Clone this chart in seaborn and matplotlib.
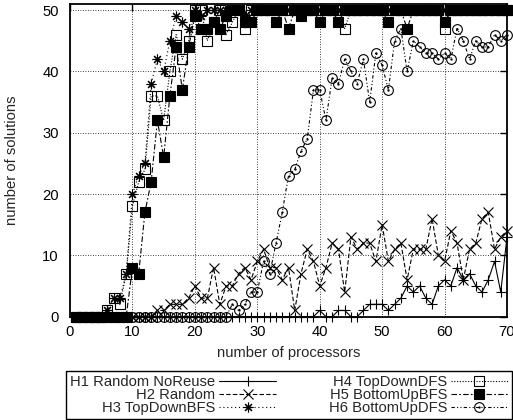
import matplotlib
matplotlib.use("Agg")
import matplotlib.pyplot as plt
from matplotlib.path import Path
import seaborn as sns

# number of processors (x) and number of solutions found per heuristic
procs = list(range(1, 71))

h1_random_noreuse = [0, 0, 0, 0, 0, 0, 0, 0, 0, 0,
                     0, 0, 0, 0, 0, 0, 0, 0, 0, 0,
                     0, 0, 0, 0, 0, 0, 0, 0, 0, 0,
                     0, 0, 0, 0, 0, 0, 0, 0, 0, 1,
                     0, 0, 1, 1, 0, 0, 1, 2, 2, 2,
                     1, 2, 3, 5, 4, 5, 3, 2, 5, 6,
                     5, 8, 6, 7, 5, 4, 6, 9, 4, 13]
h2_random = [0, 0, 0, 0, 0, 0, 0, 0, 0, 0,
             0, 0, 0, 1, 1, 2, 2, 2, 3, 5,
             3, 3, 8, 2, 5, 5, 7, 8, 6, 9,
             11, 8, 8, 6, 8, 1, 7, 11, 9, 5,
             8, 12, 11, 4, 13, 11, 12, 12, 9, 15,
             9, 11, 12, 6, 11, 11, 11, 16, 10, 9,
             14, 12, 6, 11, 12, 16, 17, 11, 13, 14]
h3_topdown_bfs = [0, 0, 0, 0, 0, 1, 3, 3, 7, 20,
                  23, 25, 38, 42, 40, 45, 49, 48, 47, 50,
                  49, 50, 50, 50, 50, 50, 50, 49, 50, 50,
                  50, 50, 50, 50, 50, 50, 50, 50, 50, 50,
                  50, 50, 50, 50, 50, 50, 50, 50, 50, 50,
                  50, 50, 50, 50, 50, 50, 50, 50, 50, 50,
                  50, 50, 50, 50, 50, 50, 50, 50, 50, 50]
h4_topdown_dfs = [0, 0, 0, 0, 0, 1, 3, 2, 7, 18,
                  22, 24, 36, 36, 32, 40, 46, 42, 45, 50,
                  50, 45, 48, 50, 46, 48, 50, 47, 50, 50,
                  50, 50, 50, 50, 50, 50, 50, 50, 50, 50,
                  50, 50, 50, 47, 50, 50, 50, 50, 50, 50,
                  50, 50, 50, 50, 50, 50, 50, 50, 50, 47,
                  50, 50, 50, 50, 50, 50, 50, 50, 50, 50]
h5_bottomup_bfs = [0, 0, 0, 0, 0, 0, 0, 0, 0, 8,
                   7, 17, 22, 32, 26, 36, 44, 37, 44, 49,
                   47, 47, 48, 47, 49, 50, 50, 48, 48, 50,
                   50, 50, 48, 50, 47, 50, 49, 50, 50, 48,
                   50, 50, 48, 50, 50, 50, 50, 50, 50, 50,
                   48, 50, 50, 47, 50, 50, 50, 50, 50, 48,
                   50, 50, 50, 50, 50, 50, 50, 50, 50, 50]
h6_bottomup_dfs = [0, 0, 0, 0, 0, 0, 0, 0, 0, 0,
                   0, 0, 0, 0, 0, 0, 0, 0, 0, 0,
                   0, 0, 0, 0, 0, 2, 1, 2, 4, 4,
                   9, 7, 12, 17, 23, 24, 27, 29, 37, 37,
                   32, 39, 38, 42, 40, 38, 42, 35, 43, 41,
                   37, 45, 47, 40, 45, 44, 43, 43, 42, 43,
                   42, 47, 45, 42, 45, 44, 44, 46, 45, 46]

labels = ["H1 Random NoReuse", "H2 Random", "H3 TopDownBFS",
          "H4 TopDownDFS", "H5 BottomUpBFS", "H6 BottomUpDFS"]

# circle with a dot in the middle (gnuplot style)
circle_dot = Path.make_compound_path(Path.unit_circle(), Path.circle((0, 0), 0.12))

styles = [
    dict(marker="+", linestyle="-"),
    dict(marker="x", linestyle=(0, (4, 2))),
    dict(marker=(8, 2, 0), linestyle=(0, (1, 2.5))),
    dict(marker="s", markerfacecolor="none", linestyle=(0, (1, 1.5))),
    dict(marker="s", markerfacecolor="k", linestyle=(0, (5, 2, 1.5, 2))),
    dict(marker=circle_dot, markerfacecolor="none", linestyle=(0, (3, 2, 1, 2, 1, 2))),
]
series = [h1_random_noreuse, h2_random, h3_topdown_bfs,
          h4_topdown_dfs, h5_bottomup_bfs, h6_bottomup_dfs]

sns.set_style("white")
plt.rcParams["font.family"] = ["Liberation Sans", "DejaVu Sans"]
FS = 10.6

fig = plt.figure(figsize=(5.13, 4.2), dpi=100)
ax = fig.add_axes([70 / 513, 103.4 / 420, 437 / 513, 312.6 / 420])

for label, vals, st in zip(labels, series, styles):
    sns.lineplot(x=procs, y=vals, ax=ax, color="k", linewidth=0.8,
                 markersize=7, markeredgecolor="k", markeredgewidth=0.8,
                 errorbar=None, label=label, clip_on=False, **st)

ax.set_xlim(0, 70)
ax.set_ylim(0, 51)
ax.set_xticks(range(0, 71, 10))
ax.set_yticks(range(0, 51, 10))
ax.grid(True, color="k", linestyle=(0, (1, 2)), linewidth=0.6)
ax.tick_params(direction="in", top=True, right=True, length=5, width=1,
               labelsize=FS, colors="k")
ax.tick_params(axis="x", pad=6)
ax.tick_params(axis="y", pad=8)
for sp in ax.spines.values():
    sp.set_linewidth(1.3)
    sp.set_color("k")
ax.set_xlabel("number of processors", fontsize=FS, labelpad=5)
ax.set_ylabel("number of solutions", fontsize=FS, labelpad=17)

if ax.get_legend() is not None:
    ax.get_legend().remove()
handles, hlabels = ax.get_legend_handles_labels()
leg = fig.legend(handles, hlabels, ncol=2, loc="upper center",
                 bbox_to_anchor=(289 / 513, 1 - 371 / 420),
                 markerfirst=False, frameon=True, fancybox=False,
                 edgecolor="k", framealpha=1, handlelength=3.85,
                 handletextpad=0.25, columnspacing=3.6, labelspacing=-0.08,
                 borderpad=0.3, borderaxespad=0, fontsize=FS)
leg.get_frame().set_linewidth(1)

fig.savefig("out.png", dpi=100)
